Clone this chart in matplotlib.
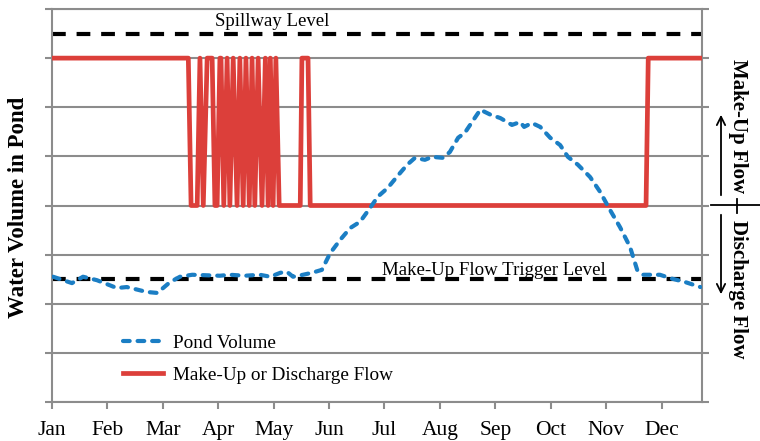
import matplotlib
matplotlib.use("Agg")
import matplotlib.pyplot as plt
from matplotlib.lines import Line2D
from matplotlib.patches import FancyArrowPatch

# ---- data ----
months = ["Jan", "Feb", "Mar", "Apr", "May", "Jun", "Jul", "Aug", "Sep", "Oct", "Nov", "Dec"]

pond_x = [0.02, 0.36, 0.56, 0.81, 1.17, 1.35, 1.71, 1.90, 2.13, 2.31, 2.53, 3.03, 3.21, 3.48,
          3.75, 3.94, 4.12, 4.24, 4.35, 4.53, 4.69, 4.87, 5.02, 5.20, 5.38, 5.56, 5.74, 5.88,
          6.06, 6.25, 6.41, 6.55, 6.73, 6.86, 7.06, 7.18, 7.33, 7.45, 7.64, 7.73, 7.91, 8.09,
          8.30, 8.45, 8.52, 8.66, 8.81, 8.99, 9.17, 9.31, 9.49, 9.71, 9.89, 10.07, 10.25,
          10.43, 10.56, 10.67, 10.97, 11.19, 11.43, 11.70]
pond_volume = [2.55, 2.42, 2.55, 2.48, 2.32, 2.34, 2.24, 2.22, 2.44, 2.55, 2.59, 2.57, 2.59, 2.57,
               2.59, 2.55, 2.63, 2.65, 2.55, 2.59, 2.63, 2.69, 3.03, 3.30, 3.54, 3.67, 3.95, 4.18,
               4.36, 4.62, 4.83, 4.97, 4.93, 4.99, 4.97, 5.09, 5.38, 5.48, 5.80, 5.95, 5.85, 5.78,
               5.64, 5.70, 5.60, 5.68, 5.60, 5.38, 5.23, 4.99, 4.83, 4.58, 4.28, 3.91, 3.56,
               3.16, 2.69, 2.59, 2.59, 2.51, 2.44, 2.34]

flow_x = [0, 2.46, 2.51, 2.62, 2.67, 2.73, 2.80, 2.89, 2.94, 2.98, 3.03, 3.05, 3.10, 3.16,
          3.21, 3.27, 3.34, 3.39, 3.45, 3.50, 3.56, 3.61, 3.66, 3.72, 3.79, 3.85, 3.90, 3.94,
          3.99, 4.04, 4.10, 4.48, 4.51, 4.62, 4.66, 10.72, 10.76, 11.73]
flow_level = [7, 7, 4, 4, 7, 4, 7, 7, 4, 4, 7, 7, 4, 7, 4, 7, 4, 7, 4, 7, 4, 7, 4, 7, 4, 7, 4, 7,
              4, 7, 4, 4, 7, 7, 4, 4, 7, 7]

spillway_level = 7.5
trigger_level = 2.5
x_max = 11.73

# ---- style ----
serif = ["Liberation Serif", "DejaVu Serif"]
plt.rcParams["font.family"] = serif
grid_c = "#8c8c8c"
blue = "#1b7ec4"
red = "#dc3f3a"

fig = plt.figure(figsize=(7.6, 4.41), dpi=100)
ax = fig.add_axes([52 / 760, 1 - 402 / 441, 650 / 760, 393 / 441])

ax.set_xlim(0, x_max)
ax.set_ylim(0, 8)
ax.set_yticks(range(0, 9))
ax.set_yticklabels([])
ax.set_xticks(range(12))
ax.set_xticklabels(months, fontsize=15.5)
ax.grid(axis="y", color=grid_c, linewidth=1.5, zorder=0)
for s in ["left", "right", "bottom", "top"]:
    ax.spines[s].set_color(grid_c)
    ax.spines[s].set_linewidth(1.5)
ax.tick_params(axis="both", direction="out", length=5, width=1.5, color=grid_c)
ax.tick_params(axis="y", left=True, right=True)
ax.tick_params(axis="x", pad=9)

# reference levels
ax.axhline(spillway_level, color="black", linewidth=3.0, dashes=(3.3, 2.6), zorder=2)
ax.axhline(trigger_level, color="black", linewidth=3.0, dashes=(3.3, 2.6), zorder=2)

# series
ax.plot(flow_x, flow_level, color=red, linewidth=3.4, zorder=3)
ax.plot(pond_x, pond_volume, color=blue, linewidth=3.0, dashes=(1.6, 1.9),
        dash_capstyle="round", zorder=4)

ax.text(3.97, 7.74, "Spillway Level", fontsize=13.5, ha="center", va="center")
ax.text(5.96, 2.68, "Make-Up Flow Trigger Level", fontsize=13.6, ha="left", va="center")

h_blue = Line2D([], [], color=blue, linewidth=3.0, dashes=(1.6, 1.9), dash_capstyle="round")
h_red = Line2D([], [], color=red, linewidth=3.4)
ax.legend([h_blue, h_red], ["Pond Volume", "Make-Up or Discharge Flow"],
          loc="upper left", bbox_to_anchor=(0.109, 0.172), frameon=False,
          fontsize=13.8, borderpad=0, borderaxespad=0, handlelength=2.1,
          handletextpad=0.5, labelspacing=0.75)

fig.text(19 / 760, 1 - 207 / 441, "Water Volume in Pond", rotation=90, fontsize=16.5,
         fontweight="bold", ha="center", va="center")

# right-side annotations
fig.text(738 / 760, 1 - 126 / 441, "Make-Up Flow", rotation=-90, fontsize=15,
         fontweight="bold", ha="center", va="center")
fig.text(738 / 760, 1 - 289 / 441, "Discharge Flow", rotation=-90, fontsize=15,
         fontweight="bold", ha="center", va="center")
fig.add_artist(Line2D([711 / 760, 1.0], [1 - 205 / 441] * 2, color="black", linewidth=1.3,
                      transform=fig.transFigure))
fig.add_artist(Line2D([737 / 760] * 2, [1 - 199 / 441, 1 - 213 / 441], color="black",
                      linewidth=1.3, transform=fig.transFigure))
fig.add_artist(FancyArrowPatch((721 / 760, 1 - 198 / 441), (721 / 760, 1 - 112 / 441),
               arrowstyle="->,head_length=6,head_width=3", color="black", linewidth=1.3,
               transform=fig.transFigure, mutation_scale=1))
fig.add_artist(FancyArrowPatch((721 / 760, 1 - 212 / 441), (721 / 760, 1 - 297 / 441),
               arrowstyle="->,head_length=6,head_width=3", color="black", linewidth=1.3,
               transform=fig.transFigure, mutation_scale=1))

fig.savefig("out.png", dpi=100)
